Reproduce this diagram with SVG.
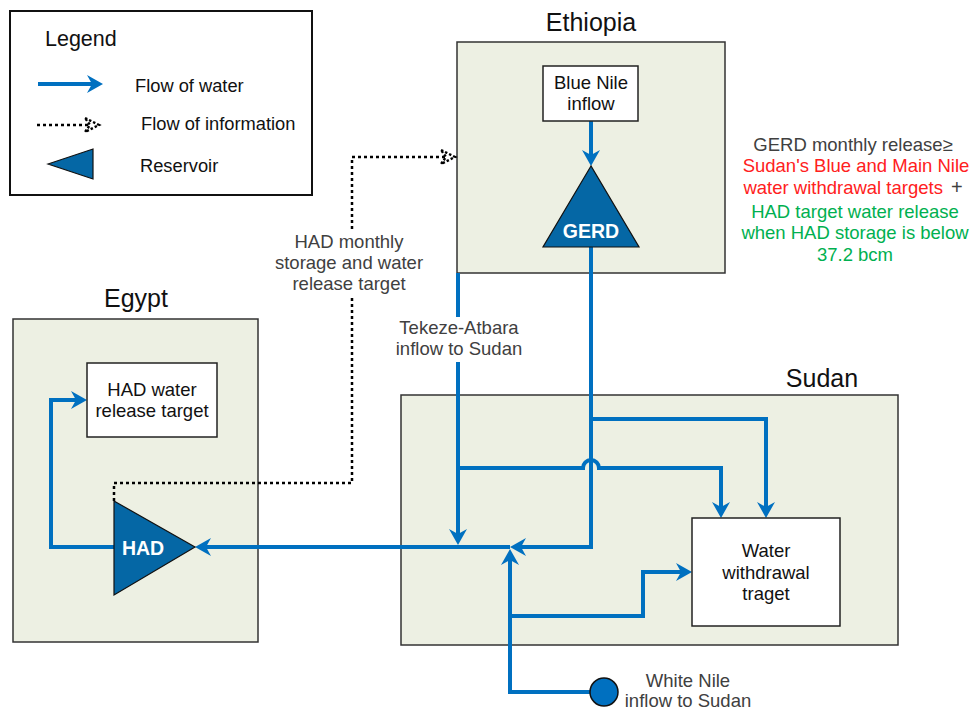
<svg xmlns="http://www.w3.org/2000/svg" width="971" height="710" viewBox="0 0 971 710">
<defs>
<style>
text{font-family:"Liberation Sans",Arial,sans-serif;}
.region{fill:#EDF0E3;stroke:#333;stroke-width:1.5;}
.box{fill:#fff;stroke:#222;stroke-width:1.5;}
.res{fill:#0567A5;stroke:#111;stroke-width:1.2;}
.title{font-size:25px;fill:#111;text-anchor:middle;}
.lbl{font-size:18.5px;fill:#111;text-anchor:middle;}
.glbl{font-size:18.5px;fill:#404040;text-anchor:middle;}
.rlbl{font-size:19.5px;fill:#fff;font-weight:bold;text-anchor:middle;}
.water{fill:none;stroke:#0070C0;stroke-width:4;stroke-linejoin:miter;marker-end:url(#arr);}
.info{fill:none;stroke:#000;stroke-width:2.5;stroke-dasharray:3,3;marker-end:url(#info);}
</style>
<marker id="arr" viewBox="0 0 16 18" refX="5" refY="9" markerWidth="16" markerHeight="18" markerUnits="userSpaceOnUse" orient="auto">
<path d="M0,0 L16,9 L0,18 L5,9 z" fill="#0070C0"/>
</marker>
<marker id="info" viewBox="-2 -2 20 18" refX="5" refY="7" markerWidth="20" markerHeight="18" markerUnits="userSpaceOnUse" orient="auto">
<path d="M0,0 L14,7 L0,14 L5,7 z" fill="none" stroke="#000" stroke-width="2.4" stroke-dasharray="2.5,2"/>
</marker>
</defs>
<rect width="971" height="710" fill="#fff"/>

<g id="legend">
<rect x="10" y="11" width="302" height="184" fill="#fff" stroke="#111" stroke-width="2"/>
<text x="45" y="46" font-size="21.5" fill="#111">Legend</text>
<line x1="38" y1="84" x2="92" y2="84" class="water"/>
<text x="135" y="92" font-size="18.3" fill="#111">Flow of water</text>
<line x1="37" y1="125" x2="90" y2="125" class="info"/>
<text x="141" y="130" font-size="18.3" fill="#111">Flow of information</text>
<polygon points="48,164 93,149 93,179" class="res"/>
<text x="140" y="172" font-size="18.3" fill="#111">Reservoir</text>
</g>

<g id="ethiopia">
<rect x="457" y="42" width="268" height="231" class="region"/>
<text x="591" y="31" class="title">Ethiopia</text>
</g>
<g id="sudan">
<rect x="401" y="395" width="497" height="250" class="region"/>
<text x="822" y="387" class="title">Sudan</text>
</g>
<g id="egypt">
<rect x="13" y="319" width="245" height="323" class="region"/>
<text x="136" y="307" class="title">Egypt</text>
</g>

<g id="connectors">
<path d="M591,121 V155" class="water"/>
<path d="M591,247 V547 H521" class="water"/>
<path d="M591,419 H766 V507" class="water"/>
<path d="M458,273 V534" class="water"/>
<path d="M458,468 H583 A8,8 0 0 1 599,468 H721 V507" class="water"/>
<path d="M590,692 H510 V560" class="water"/>
<path d="M510,616 H643 V572 H681" class="water"/>
<path d="M510,547 H206" class="water"/>
<path d="M114,547 H51 V400 H76" class="water"/>
<path d="M114,501 V483 H352 V157 H446" class="info"/>
</g>

<g id="label-had-monthly">
<rect x="280" y="230" width="140" height="68" fill="#fff"/>
<text class="glbl"><tspan x="349" y="248">HAD monthly</tspan><tspan x="349" y="269">storage and water</tspan><tspan x="349" y="290">release target</tspan></text>
</g>
<g id="label-tekeze">
<rect x="395" y="317" width="128" height="45" fill="#fff"/>
<text class="glbl"><tspan x="459" y="334">Tekeze-Atbara</tspan><tspan x="459" y="355">inflow to Sudan</tspan></text>
</g>

<g id="blue-nile">
<rect x="543" y="66" width="95" height="55" class="box"/>
<text class="lbl"><tspan x="591" y="89">Blue Nile</tspan><tspan x="591" y="110">inflow</tspan></text>
</g>
<g id="gerd">
<polygon points="591,166 543,247 639,247" class="res"/>
<text x="591" y="238" class="rlbl">GERD</text>
</g>
<g id="had-target">
<rect x="87" y="363" width="130" height="74" class="box"/>
<text class="lbl"><tspan x="152" y="396">HAD water</tspan><tspan x="152" y="417">release target</tspan></text>
</g>
<g id="had">
<polygon points="114,501 195,547 114,595" class="res"/>
<text x="143" y="555" class="rlbl">HAD</text>
</g>
<g id="water-withdrawal">
<rect x="692" y="518" width="148" height="108" class="box"/>
<text class="lbl"><tspan x="766" y="557">Water</tspan><tspan x="766" y="579">withdrawal</tspan><tspan x="766" y="600">traget</tspan></text>
</g>
<g id="white-nile">
<circle cx="604" cy="692" r="14" fill="#0070C0" stroke="#111" stroke-width="1.5"/>
<text class="glbl"><tspan x="688" y="687">White Nile</tspan><tspan x="688" y="707">inflow to Sudan</tspan></text>
</g>

<g id="rule-note">
<text x="853" y="151" class="glbl">GERD monthly release≥</text>
<text x="856" y="172" class="glbl" style="fill:#FF2020">Sudan's Blue and Main Nile</text>
<text x="853" y="194" class="glbl"><tspan style="fill:#FF2020">water withdrawal targets</tspan><tspan style="fill:#404040;font-size:20px" dx="8">+</tspan></text>
<text x="855" y="218" class="glbl" style="fill:#00B050">HAD target water release</text>
<text x="855" y="239" class="glbl" style="fill:#00B050">when HAD storage is below</text>
<text x="855" y="261" class="glbl" style="fill:#00B050">37.2 bcm</text>
</g>
</svg>
